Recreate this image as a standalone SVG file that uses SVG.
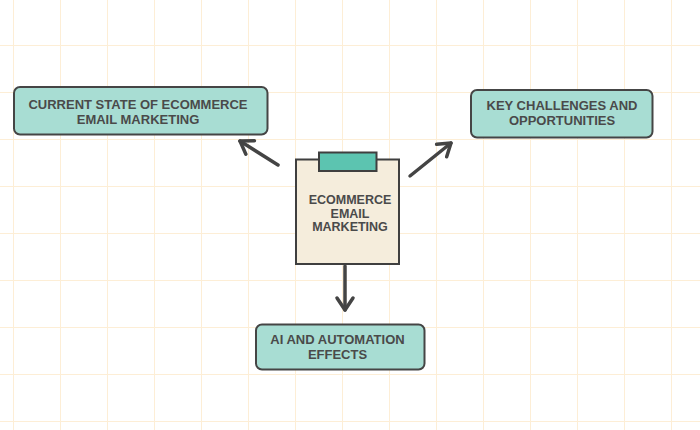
<svg xmlns="http://www.w3.org/2000/svg" width="700" height="430" viewBox="0 0 700 430">
  <defs>
    <style>
      .grid line { stroke: #fdeed6; stroke-width: 1; }
      .box { fill: #a8ddd3; stroke: #454545; stroke-width: 2; }
      .lbl { font-family: "Liberation Sans", Arial, sans-serif; font-weight: bold; font-size: 13px; fill: #4a4a4a; text-anchor: middle; }
      .conn { stroke: #444444; stroke-width: 3.5; fill: none; stroke-linecap: round; }
    </style>
    <marker id="arrow" markerUnits="userSpaceOnUse" markerWidth="30" markerHeight="30" refX="15" refY="15" orient="auto">
      <path d="M3 7 L15 15 L3 23" fill="none" stroke="#444444" stroke-width="3.5" stroke-linecap="round" stroke-linejoin="round"/>
    </marker>
  </defs>
  <rect width="700" height="430" fill="#ffffff"/>
  <g class="grid">
    <line x1="13.5" y1="0" x2="13.5" y2="430"/>
    <line x1="60.5" y1="0" x2="60.5" y2="430"/>
    <line x1="107.5" y1="0" x2="107.5" y2="430"/>
    <line x1="154.5" y1="0" x2="154.5" y2="430"/>
    <line x1="201.5" y1="0" x2="201.5" y2="430"/>
    <line x1="248.5" y1="0" x2="248.5" y2="430"/>
    <line x1="295.5" y1="0" x2="295.5" y2="430"/>
    <line x1="342.5" y1="0" x2="342.5" y2="430"/>
    <line x1="389.5" y1="0" x2="389.5" y2="430"/>
    <line x1="436.5" y1="0" x2="436.5" y2="430"/>
    <line x1="483.5" y1="0" x2="483.5" y2="430"/>
    <line x1="530.5" y1="0" x2="530.5" y2="430"/>
    <line x1="577.5" y1="0" x2="577.5" y2="430"/>
    <line x1="624.5" y1="0" x2="624.5" y2="430"/>
    <line x1="671.5" y1="0" x2="671.5" y2="430"/>
    <line x1="0" y1="45.5" x2="700" y2="45.5"/>
    <line x1="0" y1="92.5" x2="700" y2="92.5"/>
    <line x1="0" y1="139.5" x2="700" y2="139.5"/>
    <line x1="0" y1="186.5" x2="700" y2="186.5"/>
    <line x1="0" y1="233.5" x2="700" y2="233.5"/>
    <line x1="0" y1="280.5" x2="700" y2="280.5"/>
    <line x1="0" y1="327.5" x2="700" y2="327.5"/>
    <line x1="0" y1="374.5" x2="700" y2="374.5"/>
    <line x1="0" y1="421.5" x2="700" y2="421.5"/>
  </g>
  <g id="connectors">
    <line class="conn" x1="278" y1="165" x2="240" y2="141" marker-end="url(#arrow)"/>
    <line class="conn" x1="410" y1="176" x2="451" y2="143" marker-end="url(#arrow)"/>
    <line class="conn" x1="345" y1="266" x2="345" y2="310" marker-end="url(#arrow)"/>
  </g>
  <g id="center">
    <rect x="296" y="159.5" width="103" height="104.5" fill="#f5eddc" stroke="#3f3f3f" stroke-width="2"/>
    <rect x="319" y="152.5" width="57.5" height="18.5" fill="#5cc4b0" stroke="#3f3f3f" stroke-width="2"/>
    <text class="lbl" style="font-size:12.5px" x="350" y="204">ECOMMERCE</text>
    <text class="lbl" style="font-size:12.5px" x="350" y="217.5">EMAIL</text>
    <text class="lbl" style="font-size:12.5px" x="350" y="231">MARKETING</text>
  </g>
  <g id="current-state">
    <rect class="box" x="14" y="87" width="253.5" height="47.5" rx="6"/>
    <text class="lbl" x="138" y="108.5">CURRENT STATE OF ECOMMERCE</text>
    <text class="lbl" x="138" y="123.5">EMAIL MARKETING</text>
  </g>
  <g id="challenges">
    <rect class="box" x="471" y="90" width="181.5" height="47.5" rx="6"/>
    <text class="lbl" x="562" y="109.5">KEY CHALLENGES AND</text>
    <text class="lbl" x="562" y="124.5">OPPORTUNITIES</text>
  </g>
  <g id="ai-automation">
    <rect class="box" x="256" y="324.5" width="168.5" height="45" rx="6"/>
    <text class="lbl" x="337.5" y="344">AI AND AUTOMATION</text>
    <text class="lbl" x="337.5" y="358.5">EFFECTS</text>
  </g>
</svg>
